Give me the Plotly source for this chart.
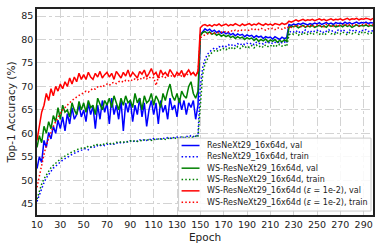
import plotly.graph_objects as go

epochs = list(range(10, 300, 2))

resnext_val = [
    52.5, 55.0, 53.8, 58.5, 57.0, 60.2, 58.8, 61.5, 60.0, 62.8,
    61.0, 63.5, 60.5, 64.2, 62.0, 65.5, 63.0, 64.0, 66.0, 63.5,
    65.0, 62.5, 66.5, 64.0, 65.8, 61.0, 66.0, 63.0, 67.0, 64.5,
    66.5, 62.0, 67.5, 64.0, 66.0, 63.0, 67.0, 60.5, 66.5, 64.5,
    67.0, 62.5, 66.0, 64.0, 67.5, 63.5, 66.5, 61.5, 65.0, 67.0,
    64.0, 66.5, 62.0, 67.0, 64.5, 66.0, 63.0, 67.5, 65.0, 66.0,
    63.5, 67.5, 65.0, 67.0, 64.0, 66.5, 65.5, 67.0, 63.0, 66.0,
    81.0, 81.8, 82.3, 81.9, 82.2, 81.7, 82.0, 81.5, 81.8, 81.3,
    81.6, 81.2, 81.5, 81.0, 81.3, 80.8, 81.2, 80.9, 81.1, 80.6,
    81.0, 80.7, 80.9, 80.4, 80.8, 80.5, 80.7, 80.2, 80.6, 80.4,
    80.5, 80.1, 80.6, 80.3, 80.0, 80.5, 80.2, 80.4, 83.2, 83.0,
    83.3, 83.1, 83.4, 83.2, 83.5, 83.3, 83.1, 83.4, 83.2, 83.5,
    83.3, 83.6, 83.2, 83.4, 83.6, 83.3, 83.5, 83.2, 83.6, 83.4,
    83.5, 83.3, 83.7, 83.4, 83.6, 83.3, 83.5, 83.7, 83.4, 83.6,
    83.5, 83.7, 83.4, 83.6, 83.5,
]

resnext_train = [
    45.5, 47.0, 48.5, 49.5, 50.5, 51.3, 52.0, 52.6, 53.0, 53.5,
    53.8, 54.3, 54.6, 55.0, 55.2, 55.5, 55.8, 56.0, 56.2, 56.4,
    56.6, 56.8, 56.5, 57.0, 57.2, 57.0, 57.4, 57.3, 57.6, 57.4,
    57.7, 57.5, 57.9, 57.7, 58.0, 57.8, 58.1, 58.0, 58.3, 58.1,
    58.4, 58.2, 58.5, 58.3, 58.6, 58.4, 58.7, 58.5, 58.8, 58.6,
    58.9, 58.7, 58.9, 58.8, 59.0, 58.8, 59.1, 58.9, 59.2, 59.0,
    59.2, 59.0, 59.3, 59.1, 59.4, 59.2, 59.5, 59.3, 59.6, 59.4,
    70.0, 74.0, 75.8, 76.8, 77.4, 77.8, 78.2, 78.0, 78.5, 78.3,
    78.7, 78.5, 78.9, 78.6, 79.0, 78.7, 79.1, 78.8, 79.2, 78.9,
    79.2, 79.0, 79.3, 78.9, 79.4, 79.1, 79.3, 79.0, 79.4, 79.2,
    79.5, 79.1, 79.4, 79.2, 79.6, 79.3, 79.5, 79.2, 81.5, 81.8,
    81.6, 81.9, 81.4, 81.8, 81.5, 82.0, 81.6, 81.9, 81.5, 81.8,
    82.0, 81.6, 81.9, 81.4, 81.8, 82.1, 81.7, 81.9, 81.5, 82.0,
    81.7, 82.1, 81.8, 81.5, 82.0, 81.7, 82.1, 81.8, 81.6, 82.0,
    81.8, 82.1, 81.7, 81.9, 81.8,
]

ws_val = [
    57.0, 59.5, 58.0, 61.5, 60.0, 62.5, 61.0, 63.8, 62.5, 65.5,
    63.0, 66.0, 64.5, 65.0, 63.5, 66.5, 65.0, 64.0, 66.8, 65.0,
    66.5, 64.5, 67.0, 65.5, 66.0, 64.0, 67.5, 66.0, 65.0, 67.0,
    66.0, 67.5, 65.5, 68.0, 66.5, 65.0, 67.5, 66.0, 68.0, 66.5,
    67.0, 65.5, 68.5, 66.5, 67.5, 65.0, 68.0, 66.5, 67.0, 68.5,
    66.0, 68.0, 67.0, 65.5, 68.5, 67.0, 69.0, 70.5, 68.0, 67.0,
    68.5, 66.5, 69.0, 68.0, 67.5, 70.0, 71.0, 68.5, 67.5, 69.0,
    80.8, 81.5, 81.7, 81.3, 81.6, 81.1, 81.4, 80.9, 81.2, 80.7,
    81.0, 80.6, 80.9, 80.4, 80.7, 80.2, 80.6, 80.3, 80.5, 80.0,
    80.4, 80.1, 80.3, 79.8, 80.2, 79.6, 80.0, 79.7, 80.1, 79.5,
    79.9, 79.6, 80.0, 79.4, 79.8, 79.5, 79.9, 79.6, 82.6, 82.8,
    82.7, 82.9, 82.5, 82.8, 83.0, 82.6, 82.9, 82.7, 83.0, 82.6,
    82.8, 83.0, 82.7, 82.9, 82.6, 83.1, 82.8, 83.0, 82.7, 82.9,
    83.0, 82.7, 83.1, 82.8, 83.0, 82.6, 82.9, 83.1, 82.8, 83.0,
    82.9, 83.1, 82.8, 83.0, 82.9,
]

ws_train = [
    46.0, 47.8, 49.2, 50.3, 51.2, 52.0, 52.7, 53.2, 53.7, 54.1,
    54.5, 54.8, 55.2, 55.5, 55.8, 56.0, 56.3, 56.5, 56.7, 56.9,
    57.0, 56.8, 57.3, 57.1, 57.5, 57.3, 57.7, 57.5, 57.8, 57.6,
    57.9, 57.7, 58.0, 57.8, 58.1, 58.0, 58.2, 58.1, 58.3, 58.2,
    58.4, 58.2, 58.5, 58.3, 58.5, 58.4, 58.6, 58.5, 58.7, 58.5,
    58.8, 58.6, 58.8, 58.7, 58.9, 58.7, 59.0, 58.8, 59.0, 58.9,
    59.1, 58.9, 59.2, 59.0, 59.2, 59.1, 59.3, 59.1, 59.4, 59.2,
    66.0, 72.5, 74.8, 76.0, 76.8, 77.2, 77.6, 77.4, 77.9, 77.7,
    78.1, 77.8, 78.3, 77.9, 78.4, 78.0, 78.5, 78.1, 78.6, 78.2,
    78.6, 78.3, 78.7, 78.2, 78.8, 78.4, 78.7, 78.3, 78.9, 78.5,
    78.8, 78.4, 78.9, 78.5, 79.0, 78.6, 78.9, 78.5, 81.0, 81.3,
    81.1, 81.4, 80.9, 81.3, 81.0, 81.5, 81.1, 81.4, 81.0, 81.3,
    81.5, 81.1, 81.4, 80.9, 81.3, 81.6, 81.2, 81.4, 81.0, 81.5,
    81.2, 81.6, 81.3, 81.0, 81.5, 81.2, 81.6, 81.3, 81.1, 81.5,
    81.3, 81.6, 81.2, 81.4, 81.3,
]

wse_val = [
    58.5, 62.0, 64.5, 66.0, 68.5, 67.0, 69.5, 68.0, 70.0, 69.0,
    70.5, 69.5, 71.0, 70.0, 71.8, 70.5, 72.0, 71.0, 72.8, 71.5,
    72.5, 71.5, 73.0, 72.0, 71.5, 72.8, 72.0, 73.2, 71.8, 72.5,
    73.0, 72.0, 72.8, 71.5, 73.2, 72.5, 71.8, 73.0, 72.2, 73.5,
    72.0, 73.0, 72.5, 71.8, 73.2, 72.6, 73.5, 72.0, 72.8, 73.8,
    72.5, 73.0, 71.8, 73.5, 72.5, 73.0, 72.2, 73.6, 72.8, 72.0,
    73.0, 72.5, 73.4, 72.0, 72.8, 73.5, 72.6, 73.0, 72.2, 73.3,
    82.5, 83.0, 83.2, 82.9, 83.1, 82.8, 83.2, 83.0, 83.3, 82.9,
    83.1, 83.3, 82.9, 83.2, 83.0, 83.4, 83.1, 82.9, 83.3, 83.0,
    83.2, 83.4, 83.0, 83.3, 83.1, 83.5, 83.2, 83.0, 83.4, 83.1,
    83.3, 83.0, 83.4, 83.2, 83.1, 83.5, 83.2, 83.4, 83.9, 83.7,
    84.0, 84.2, 83.9, 84.1, 84.3, 84.0, 84.2, 84.1, 84.3, 84.0,
    84.2, 84.4, 84.1, 84.3, 84.0, 84.2, 84.4, 84.1, 84.3, 84.2,
    84.4, 84.1, 84.3, 84.5, 84.2, 84.4, 84.3, 84.5, 84.2, 84.4,
    84.3, 84.5, 84.4, 84.2, 84.5,
]

wse_train = [
    48.5, 51.0, 53.5, 55.5, 57.5, 59.0, 60.5, 61.5, 62.5, 63.5,
    64.2, 65.0, 65.5, 66.2, 66.5, 67.0, 67.4, 67.8, 68.0, 68.4,
    68.6, 69.0, 68.8, 69.3, 69.6, 69.4, 69.9, 70.1, 69.8, 70.3,
    70.5, 70.2, 70.7, 70.9, 70.6, 71.0, 71.2, 70.9, 71.3, 71.1,
    71.5, 71.2, 71.6, 71.4, 71.8, 71.5, 71.9, 71.6, 72.0, 71.7,
    71.9, 70.2, 72.0, 71.8, 72.2, 71.9, 72.3, 72.0, 72.4, 72.1,
    72.3, 72.5, 72.2, 72.6, 72.4, 72.7, 72.5, 72.8, 72.6, 72.9,
    80.4, 80.8, 81.0, 81.2, 81.1, 81.4, 81.3, 81.5, 81.4, 81.6,
    81.5, 81.8, 81.6, 81.9, 81.7, 82.0, 81.8, 82.1, 81.9, 82.0,
    82.1, 81.9, 82.2, 82.0, 82.3, 82.1, 82.4, 82.2, 82.0, 82.3,
    82.2, 82.4, 82.1, 82.5, 82.3, 82.2, 82.5, 82.3, 82.8, 82.6,
    82.9, 82.7, 83.0, 82.8, 82.6, 83.0, 82.8, 83.1, 82.7, 82.9,
    83.1, 82.8, 83.0, 82.7, 83.2, 82.9, 83.1, 82.8, 83.0, 83.2,
    82.9, 83.1, 83.3, 82.9, 83.2, 83.0, 83.3, 83.1, 82.9, 83.2,
    83.1, 83.3, 83.0, 83.2, 83.1,
]

series_names = [
    "ResNeXt29_16x64d, val",
    "ResNeXt29_16x64d, train",
    "WS-ResNeXt29_16x64d, val",
    "WS-ResNeXt29_16x64d, train",
    "WS-ResNeXt29_16x64d (<i>ε</i> = 1e-2), val",
    "WS-ResNeXt29_16x64d (<i>ε</i> = 1e-2), train",
]
series_values = [resnext_val, resnext_train, ws_val, ws_train, wse_val, wse_train]
series_colors = ["#0000ff", "#0000ff", "#008000", "#008000", "#ff0000", "#ff0000"]
series_dash = ["solid", "1.5px,2.2px", "solid", "1.5px,2.2px", "solid", "1.5px,2.2px"]

x_ticks = list(range(10, 300, 20))
y_ticks = list(range(45, 90, 5))

for v in series_values:
    assert len(v) == len(epochs), len(v)

fig = go.Figure()
for name, vals, col, dash in zip(series_names, series_values, series_colors, series_dash):
    fig.add_trace(go.Scatter(
        x=epochs, y=vals, mode="lines", name=name, showlegend=False,
        line=dict(color=col, width=1.5, dash=dash),
    ))

# legend box (drawn in paper coordinates)
PW, PH = 337.0, 209.0
def px(xp):
    return (xp - 37) / PW
def py(yp):
    return (216 - yp) / PH

shapes = [dict(type="rect", xref="paper", yref="paper",
               x0=px(179), x1=px(372), y0=py(212), y1=py(138),
               line=dict(color="#cccccc", width=1), fillcolor="rgba(255,255,255,0.85)",
               layer="above")]
annotations = []
row_y = [145.5, 157, 168.5, 180, 191.5, 203]
for i, (name, col, dash) in enumerate(zip(series_names, series_colors, series_dash)):
    yy = py(row_y[i])
    shapes.append(dict(type="line", xref="paper", yref="paper",
                       x0=px(182), x1=px(200), y0=yy, y1=yy,
                       line=dict(color=col, width=1.5, dash=dash), layer="above"))
    annotations.append(dict(xref="paper", yref="paper", x=px(205), y=yy,
                            text=name, showarrow=False, xanchor="left", yanchor="middle",
                            font=dict(size=8, color="#222222", family="DejaVu Sans")))

fig.update_layout(
    width=382, height=249,
    margin=dict(l=37, r=8, t=7, b=33),
    paper_bgcolor="white", plot_bgcolor="white",
    font=dict(family="DejaVu Sans", size=9.5, color="#222222"),
    shapes=shapes, annotations=annotations,
    xaxis=dict(
        range=[10, 298], tickmode="array", tickvals=x_ticks,
        showgrid=True, gridcolor="#d3d3d3", griddash="dashdot", gridwidth=0.8,
        showline=True, mirror=True, linecolor="#222222", linewidth=1.5,
        ticks="", zeroline=False,
        title=dict(text="Epoch", font=dict(size=10.5), standoff=4),
        tickfont=dict(size=9.5),
    ),
    yaxis=dict(
        range=[42.6, 86.5], tickmode="array", tickvals=y_ticks,
        showgrid=True, gridcolor="#d3d3d3", griddash="dashdot", gridwidth=0.8,
        showline=True, mirror=True, linecolor="#222222", linewidth=1.5,
        ticks="", zeroline=False,
        title=dict(text="Top-1 Accuracy (%)", font=dict(size=10.5), standoff=4),
        tickfont=dict(size=9.5),
    ),
)

fig.write_html(
    "out.html",
    config={"displayModeBar": False},
    post_script="document.body.style.margin='0px';document.body.style.overflow='hidden';",
)
